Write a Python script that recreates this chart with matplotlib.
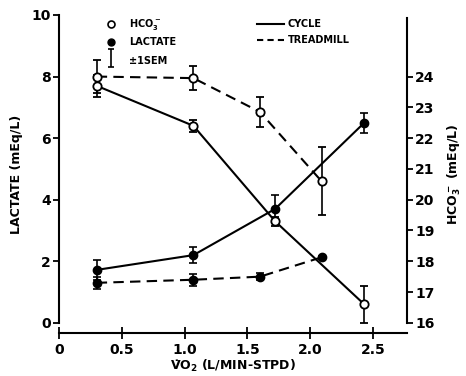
import matplotlib
matplotlib.use("Agg")
import matplotlib.pyplot as plt
from matplotlib.lines import Line2D

# VO2 (L/min STPD) for each work stage
vo2_cycle = [0.3, 1.07, 1.72, 2.43]
vo2_tread = [0.3, 1.07, 1.6, 2.09]

# Bicarbonate (mEq/L), right axis
hco3_cycle = [23.7, 22.4, 19.3, 16.6]
hco3_cycle_sem = [0.35, 0.2, 0.15, 0.6]
hco3_tread = [24.0, 23.95, 22.85, 20.6]
hco3_tread_sem = [0.55, 0.4, 0.5, 1.1]

# Lactate (mEq/L), left axis
lact_cycle = [1.72, 2.2, 3.7, 6.5]
lact_cycle_sem = [0.33, 0.25, 0.45, 0.33]
lact_tread = [1.3, 1.4, 1.5, 2.13]
lact_tread_sem = [0.2, 0.2, 0.12, 0.05]

left_ticks = [0, 2, 4, 6, 8, 10]
right_ticks = [16, 17, 18, 19, 20, 21, 22, 23, 24]
x_ticks = [0, 0.5, 1.0, 1.5, 2.0, 2.5]
x_ticklabels = ["0", "0.5", "1.0", "1.5", "2.0", "2.5"]

plt.rcParams["font.family"] = "DejaVu Sans"
plt.rcParams["font.weight"] = "bold"

fig = plt.figure(figsize=(4.66, 3.76), dpi=100)
ax = fig.add_axes([59 / 466, 1 - 333 / 376, (407 - 59) / 466, (333 - 15) / 376])
ax2 = ax.twinx()

ax.set_xlim(0, 2.77)
ax.set_ylim(-0.33, 10.0)
ax2.set_ylim(16 - 0.33, 26.0)

lw = 1.5
ms = 6
cap = 3

# HCO3 on the right axis (open circles)
ax2.errorbar(vo2_cycle, hco3_cycle, yerr=hco3_cycle_sem, color="black", lw=lw,
             ls="-", marker="o", ms=ms, mfc="white", mec="black", mew=1.3,
             capsize=cap, elinewidth=1.2, capthick=1.2)
ax2.errorbar(vo2_tread, hco3_tread, yerr=hco3_tread_sem, color="black", lw=lw,
             ls=(0, (5, 3)), marker="o", ms=ms, mfc="white", mec="black", mew=1.3,
             capsize=cap, elinewidth=1.2, capthick=1.2)

# Lactate on the left axis (filled circles)
ax.errorbar(vo2_cycle, lact_cycle, yerr=lact_cycle_sem, color="black", lw=lw,
            ls="-", marker="o", ms=ms, mfc="black", mec="black",
            capsize=cap, elinewidth=1.2, capthick=1.2)
ax.errorbar(vo2_tread, lact_tread, yerr=lact_tread_sem, color="black", lw=lw,
            ls=(0, (5, 3)), marker="o", ms=ms, mfc="black", mec="black",
            capsize=cap, elinewidth=1.2, capthick=1.2)

# Spines
for a in (ax, ax2):
    a.spines["top"].set_visible(False)
    for s in a.spines.values():
        s.set_linewidth(1.5)
ax2.spines["left"].set_visible(False)
ax2.spines["bottom"].set_visible(False)
ax.spines["right"].set_visible(False)
ax.spines["left"].set_bounds(0, 10)
ax2.spines["right"].set_bounds(16, 25.9)

ax.set_yticks(left_ticks)
ax.set_yticklabels([str(t) for t in left_ticks], fontsize=10, fontweight="bold")
ax.set_xticks(x_ticks)
ax.set_xticklabels(x_ticklabels, fontsize=10, fontweight="bold")
ax2.set_yticks(right_ticks)
ax2.set_yticklabels([str(t) for t in right_ticks], fontsize=10, fontweight="bold")

ax.tick_params(axis="y", direction="out", length=4, width=1.3, pad=2)
ax.tick_params(axis="x", direction="inout", length=8, width=1.3, pad=3)
ax2.tick_params(axis="y", direction="out", length=4, width=1.3, pad=2)

ax.set_ylabel("LACTATE (mEq/L)", fontsize=9, fontweight="bold", labelpad=6)
ax2.set_ylabel("HCO$_3^-$ (mEq/L)", fontsize=9, fontweight="bold", labelpad=8)
ax.set_xlabel("V\u0307O$_2$ (L/MIN-STPD)", fontsize=9, fontweight="bold", labelpad=1)

# Symbol key
ax.plot([0.41], [9.7], "o", ms=5, mfc="white", mec="black", mew=1.2, clip_on=False)
ax.text(0.56, 9.7, "HCO$_3^-$", fontsize=7, fontweight="bold", va="center")
ax.plot([0.41], [9.13], "o", ms=5, mfc="black", mec="black", clip_on=False)
ax.text(0.56, 9.13, "LACTATE", fontsize=7, fontweight="bold", va="center")
ax.errorbar([0.41], [8.6], yerr=[0.3], color="black", capsize=2.5, elinewidth=1.2,
            capthick=1.2, fmt="none")
ax.text(0.56, 8.5, "\u00b11SEM", fontsize=7, fontweight="bold", va="center")

# Line-style key
ax.add_line(Line2D([1.58, 1.79], [9.7, 9.7], color="black", lw=1.5))
ax.text(1.82, 9.7, "CYCLE", fontsize=7, fontweight="bold", va="center")
ax.add_line(Line2D([1.58, 1.79], [9.2, 9.2], color="black", lw=1.5, ls=(0, (3, 2))))
ax.text(1.82, 9.2, "TREADMILL", fontsize=7, fontweight="bold", va="center")

fig.savefig("out.png", dpi=100)
